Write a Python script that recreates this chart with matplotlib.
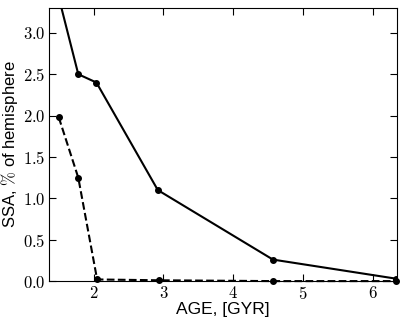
import matplotlib
matplotlib.use('Agg')
import matplotlib.pyplot as plt
from matplotlib.ticker import FuncFormatter, MultipleLocator

plt.rcParams['mathtext.fontset'] = 'cm'
plt.rcParams['font.family'] = 'Liberation Sans'

# age in Gyr
age = [1.5, 1.78, 2.04, 2.92, 4.57, 6.33]
ssa_solid = [3.43, 2.5, 2.40, 1.10, 0.26, 0.03]
age_dash = [1.5, 1.78, 2.05, 2.93, 4.57, 6.33]
ssa_dash = [1.98, 1.25, 0.02, 0.01, 0.0, 0.0]

fig = plt.figure(figsize=(4.15, 3.22), dpi=100)
ax = fig.add_axes([0.118, 0.127, 0.839, 0.848])

ax.plot(age, ssa_solid, 'k-', marker='o', markersize=4, lw=1.5)
ax.plot(age_dash, ssa_dash, 'k--', marker='o', markersize=4, lw=1.5, clip_on=False)

ax.set_xlim(1.36, 6.35)
ax.set_ylim(0, 3.3)
ax.xaxis.set_major_locator(MultipleLocator(1))
ax.yaxis.set_major_locator(MultipleLocator(0.5))
ax.xaxis.set_major_formatter(FuncFormatter(lambda v, p: '$%d$' % v))
ax.yaxis.set_major_formatter(FuncFormatter(lambda v, p: '$%.1f$' % v))
ax.tick_params(direction='in', top=True, right=True, labelsize=12, length=5, pad=2.5)

ax.set_xlabel('AGE, [GYR]', fontsize=12.5)
ax.set_ylabel('SSA, $\\%$ of hemisphere', fontsize=12)
ax.xaxis.set_label_coords(0.5, -0.075)
ax.yaxis.set_label_coords(-0.084, 0.5)

fig.savefig('out.png', dpi=100)
